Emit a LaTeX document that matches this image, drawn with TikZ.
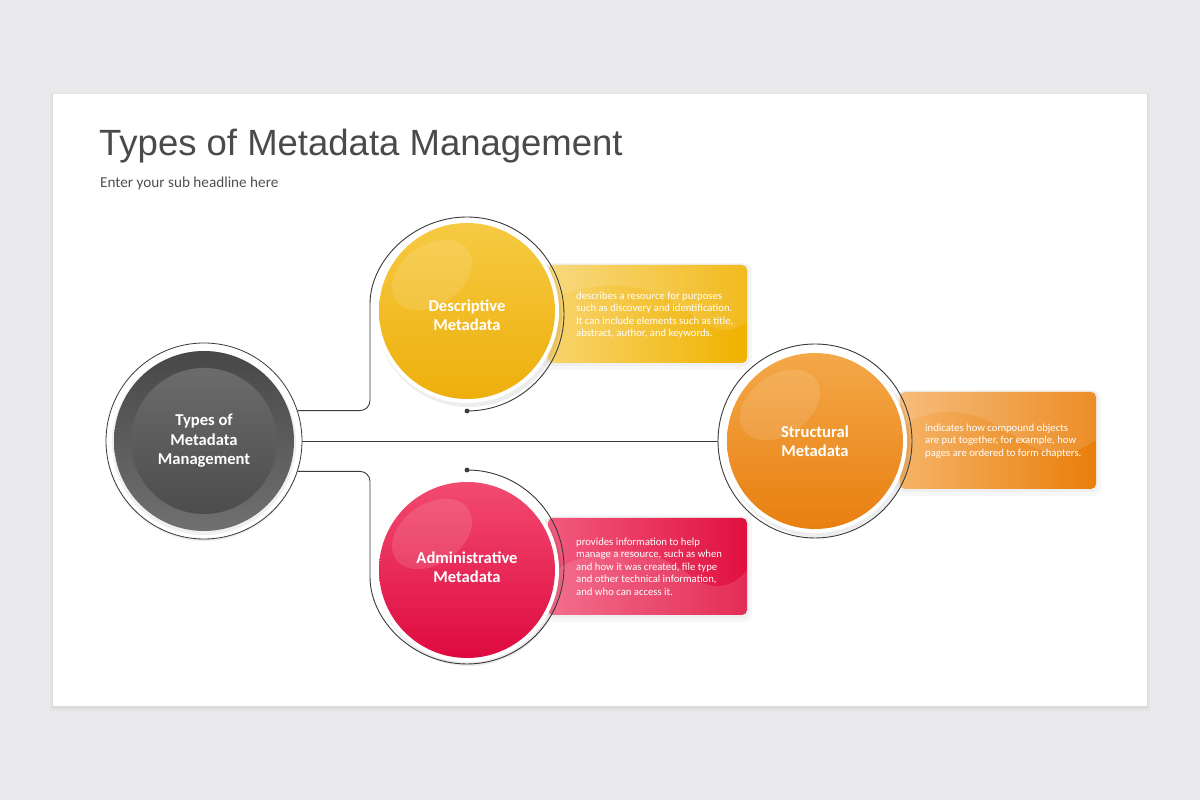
\documentclass[tikz,border=0pt]{standalone}
\usepackage{fontspec}
\setmainfont{Carlito}
\newfontfamily\titlefont{Liberation Sans}
\definecolor{bgc}{HTML}{E9E8EA}
\definecolor{titlegray}{HTML}{4A4A4A}
\definecolor{subgray}{HTML}{505050}
\definecolor{lineclr}{HTML}{3A3A3A}
\definecolor{yelA}{HTML}{F6CA42}
\definecolor{yelB}{HTML}{EEAF0C}
\definecolor{yelBoxA}{HTML}{F8D46E}
\definecolor{yelBoxB}{HTML}{F0B200}
\definecolor{pinkA}{HTML}{F24A70}
\definecolor{pinkB}{HTML}{DE0A40}
\definecolor{pinkBoxA}{HTML}{F25A7E}
\definecolor{pinkBoxB}{HTML}{E0103F}
\definecolor{orA}{HTML}{F4A848}
\definecolor{orB}{HTML}{E87F10}
\definecolor{orBoxA}{HTML}{F5B468}
\definecolor{orBoxB}{HTML}{E97E0A}
\begin{document}
\begin{tikzpicture}[x=1pt,y=1pt,
  conn/.style={draw=lineclr, line width=0.9pt},
  ringline/.style={draw=lineclr, line width=0.9pt},
  disc/.style={circle, minimum size=176pt, inner sep=0pt, shading angle=35},
  lbl/.style={font=\bfseries\fontsize{16.6}{19.5}\selectfont, text=white, align=center, inner sep=0pt},
  desc/.style={font=\fontsize{10.7}{12.6}\selectfont, text=white, align=left, anchor=north west, inner sep=0pt},
  infobox/.style={rounded corners=5pt},
  gloss/.style={fill=white, opacity=0.12},
  enddot/.style={fill=lineclr},
]
\useasboundingbox (0,0) rectangle (1200,800);
\fill[bgc] (0,0) rectangle (1200,800);
% slide with soft shadow
\fill[black, opacity=0.025] (50,89) rectangle (1150,707);
\fill[black, opacity=0.035] (52,91) rectangle (1148,706);
\fill[white] (53,94) rectangle (1147,706);

% title
\node[anchor=base west, inner sep=0pt, font=\titlefont\fontsize{36.5}{42}\selectfont, text=titlegray] (title) at (99,644) {Types of Metadata Management};
\node[anchor=base west, inner sep=0pt, font=\fontsize{15.2}{17}\selectfont, text=subgray] (subtitle) at (100,612) {Enter your sub headline here};

% ---------- info boxes ----------
% yellow
\fill[black, opacity=0.03, rounded corners=8pt] (543,430) rectangle (752,537);
\fill[black, opacity=0.03, rounded corners=6pt] (546,434) rectangle (749,536);
\shade[infobox, left color=yelBoxA, right color=yelBoxB] (548,437) rectangle (747,535);
\begin{scope}
\clip[infobox] (548,437) rectangle (747,535);
\fill[white, opacity=0.12] (548,535) -- (548,500) .. controls (620,530) and (660,510) .. (700,480) .. controls (720,465) and (735,470) .. (747,478) -- (747,535) -- cycle;
\end{scope}
% pink
\fill[black, opacity=0.03, rounded corners=8pt] (543,178) rectangle (752,284);
\fill[black, opacity=0.03, rounded corners=6pt] (546,182) rectangle (749,283);
\shade[infobox, left color=pinkBoxA, right color=pinkBoxB] (548,185) rectangle (747,282);
\begin{scope}
\clip[infobox] (548,185) rectangle (747,282);
\fill[white, opacity=0.12] (548,185) -- (548,225) .. controls (600,260) and (650,255) .. (690,225) .. controls (715,205) and (735,215) .. (747,230) -- (747,185) -- cycle;
\end{scope}
% orange
\fill[black, opacity=0.03, rounded corners=8pt] (895,304) rectangle (1101,410);
\fill[black, opacity=0.03, rounded corners=6pt] (898,308) rectangle (1098,409);
\shade[infobox, left color=orBoxA, right color=orBoxB] (900,311) rectangle (1096,408);
\begin{scope}
\clip[infobox] (900,311) rectangle (1096,408);
\fill[white, opacity=0.12] (900,408) -- (900,372) .. controls (940,400) and (980,390) .. (1020,360) .. controls (1050,340) and (1075,345) .. (1096,360) -- (1096,408) -- cycle;
\end{scope}

% ---------- hub ----------
\fill[black, opacity=0.08] (204,357) circle (98);
\node[circle, minimum size=196pt, inner sep=0pt, fill=white, draw=lineclr, line width=0.8pt] (hub) at (204,359) {};
\fill[black, opacity=0.06] (204,357) circle (92);
\shade[top color=black!72, bottom color=black!56] (204,359) circle (90);
\shade[top color=black!58, bottom color=black!70] (204,359) circle (73);
\node[lbl] (hubtext) at (204,359) {Types of\\Metadata\\Management};

% ---------- descriptive ----------
\coordinate (dL) at (370,486);
\coordinate (dEnd) at (467,389);
\draw[conn, rounded corners=10pt] (hub.18.4) -| (dL) [sharp corners] arc[start angle=180, end angle=-90, radius=97];
\fill[enddot] (dEnd) circle (2.4);
\fill[black, opacity=0.07] (469,486) circle (93);
\fill[white] (467,489) circle (92);
\node[disc, top color=yelA, bottom color=yelB] (descr) at (467,489) {};
\fill[gloss, rotate around={35:(432,525)}] (432,525) ellipse (44 and 30);
\node[lbl] (descrtext) at (467,485) {Descriptive\\Metadata};
\node[desc] (descrinfo) at (576,508.5) {describes a resource for purposes\\such as discovery and identification.\\It can include elements such as title,\\abstract, author, and keywords.};

% ---------- administrative ----------
\coordinate (aL) at (370,233);
\coordinate (aEnd) at (467,330);
\draw[conn, rounded corners=10pt] (hub.-18.4) -| (aL) [sharp corners] arc[start angle=180, end angle=450, radius=97];
\fill[enddot] (aEnd) circle (2.4);
\fill[black, opacity=0.07] (469,227) circle (93);
\fill[white] (467,230) circle (92);
\node[disc, top color=pinkA, bottom color=pinkB] (admin) at (467,230) {};
\fill[gloss, rotate around={35:(432,266)}] (432,266) ellipse (44 and 30);
\node[lbl] (admintext) at (467,233) {Administrative\\Metadata};
\node[desc] (admininfo) at (576,262.5) {provides information to help\\manage a resource, such as when\\and how it was created, file type\\and other technical information,\\and who can access it.};

% ---------- structural ----------
\node[circle, minimum size=194pt, inner sep=0pt, ringline] (sring) at (815,359) {};
\draw[conn] (hub.east) -- (sring.west);
\fill[black, opacity=0.07] (817,356) circle (93);
\fill[white] (815,359) circle (92);
\node[disc, top color=orA, bottom color=orB] (struct) at (815,359) {};
\fill[gloss, rotate around={35:(780,395)}] (780,395) ellipse (44 and 30);
\node[lbl] (structtext) at (815,359) {Structural\\Metadata};
\node[desc] (structinfo) at (925,376.5) {indicates how compound objects\\are put together, for example, how\\pages are ordered to form chapters.};
\end{tikzpicture}
\end{document}
